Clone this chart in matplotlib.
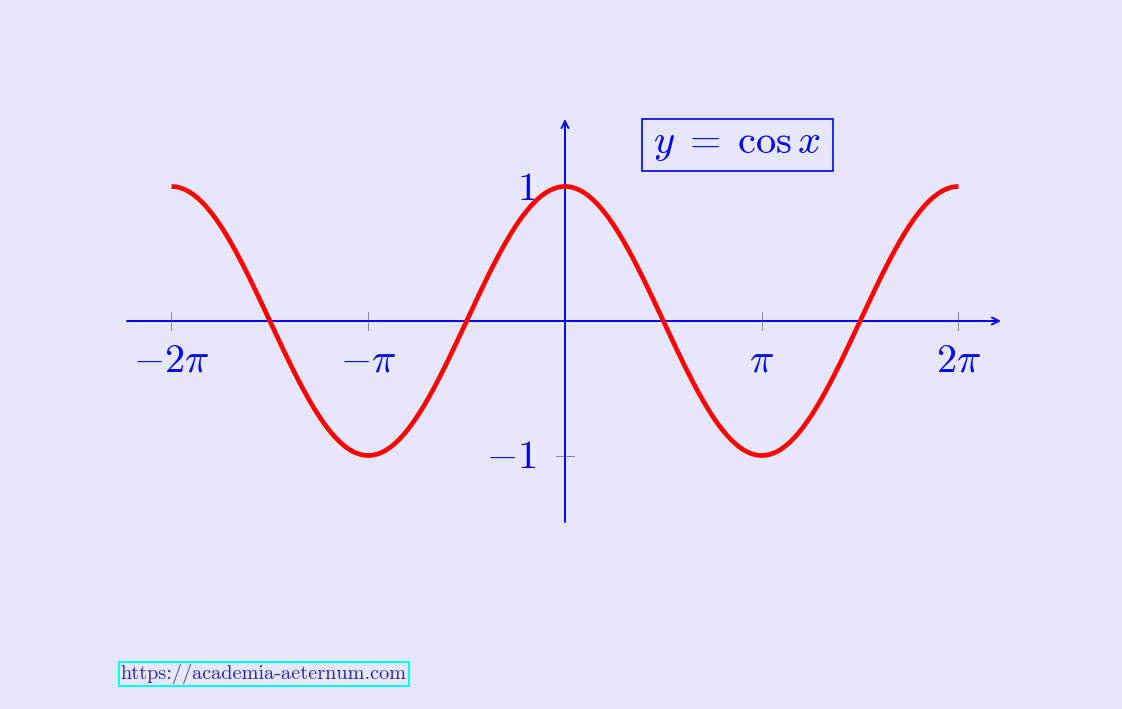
import numpy as np
import matplotlib
matplotlib.use('Agg')
import matplotlib.pyplot as plt
from matplotlib.patches import Rectangle

plt.rcParams['mathtext.fontset'] = 'cm'

# data
x_start = -2 * np.pi
x_end = 2 * np.pi
xs = np.linspace(x_start, x_end, 600)
ys = np.cos(xs)

xtick_vals = [-2 * np.pi, -np.pi, np.pi, 2 * np.pi]
xtick_labels = [r'$-2\pi$', r'$-\pi$', r'$\pi$', r'$2\pi$']
ytick_vals = [1, -1]
ytick_labels = [r'$1$', r'$-1$']
legend_text = r'$y\;=\;\cos x$'
url_text = 'https://academia-aeternum.com'

bg = '#e7e7fb'
blue = '#0000ff'

# pixel -> data mapping (x0 at px 565, pi = 196.75 px, y unit = 134.5 px)
W, H = 1122, 709
px0, py0 = 565, 321
sx = 196.75 / np.pi
sy = 134.5

def dx(px):
    return (px - px0) / sx

def dy(py):
    return (py0 - py) / sy

fig = plt.figure(figsize=(W / 100, H / 100), dpi=100, facecolor=bg)
ax = fig.add_axes([0, 0, 1, 1])
ax.set_facecolor(bg)
ax.set_xlim(dx(0), dx(W))
ax.set_ylim(dy(H), dy(0))
ax.axis('off')

# axes with arrows
ax.annotate('', xy=(dx(1001), 0), xytext=(dx(127), 0),
            arrowprops=dict(arrowstyle='->,head_length=0.5,head_width=0.25',
                            color=blue, lw=1.4, shrinkA=0, shrinkB=0))
ax.annotate('', xy=(0, dy(119)), xytext=(0, dy(522)),
            arrowprops=dict(arrowstyle='->,head_length=0.5,head_width=0.25',
                            color=blue, lw=1.4, shrinkA=0, shrinkB=0))

# ticks
for xv, lab in zip(xtick_vals, xtick_labels):
    ax.plot([xv, xv], [dy(312), dy(330)], color='#888899', lw=0.7, zorder=1)
    ax.text(xv, dy(371), lab, color=blue, fontsize=29, ha='center', va='baseline')
for yv, lab in zip(ytick_vals, ytick_labels):
    ax.plot([dx(556), dx(574)], [yv, yv], color='#888899', lw=0.7, zorder=1)
    ax.text(dx(536), yv - 13 / sy, lab, color=blue, fontsize=29, ha='right', va='baseline')

# curve
ax.plot(xs, ys, color='#ff0000', lw=3.4, solid_capstyle='butt', zorder=3)

# legend box
ax.add_patch(Rectangle((dx(642), dy(171)), dx(833) - dx(642), dy(119) - dy(171),
                       fc=bg, ec=blue, lw=1.2, zorder=4))
ax.text(dx(737), dy(153), legend_text, color=blue, fontsize=29, ha='center',
        va='baseline', zorder=5)

# url
ax.text(dx(264), dy(674), url_text, color='#2a2ab0', fontsize=14.6, family='cmr10',
        ha='center', va='center',
        bbox=dict(boxstyle='square,pad=0.12', fc=bg, ec='#00ffff', lw=1.5))

fig.savefig('out.png', dpi=100, facecolor=bg)
